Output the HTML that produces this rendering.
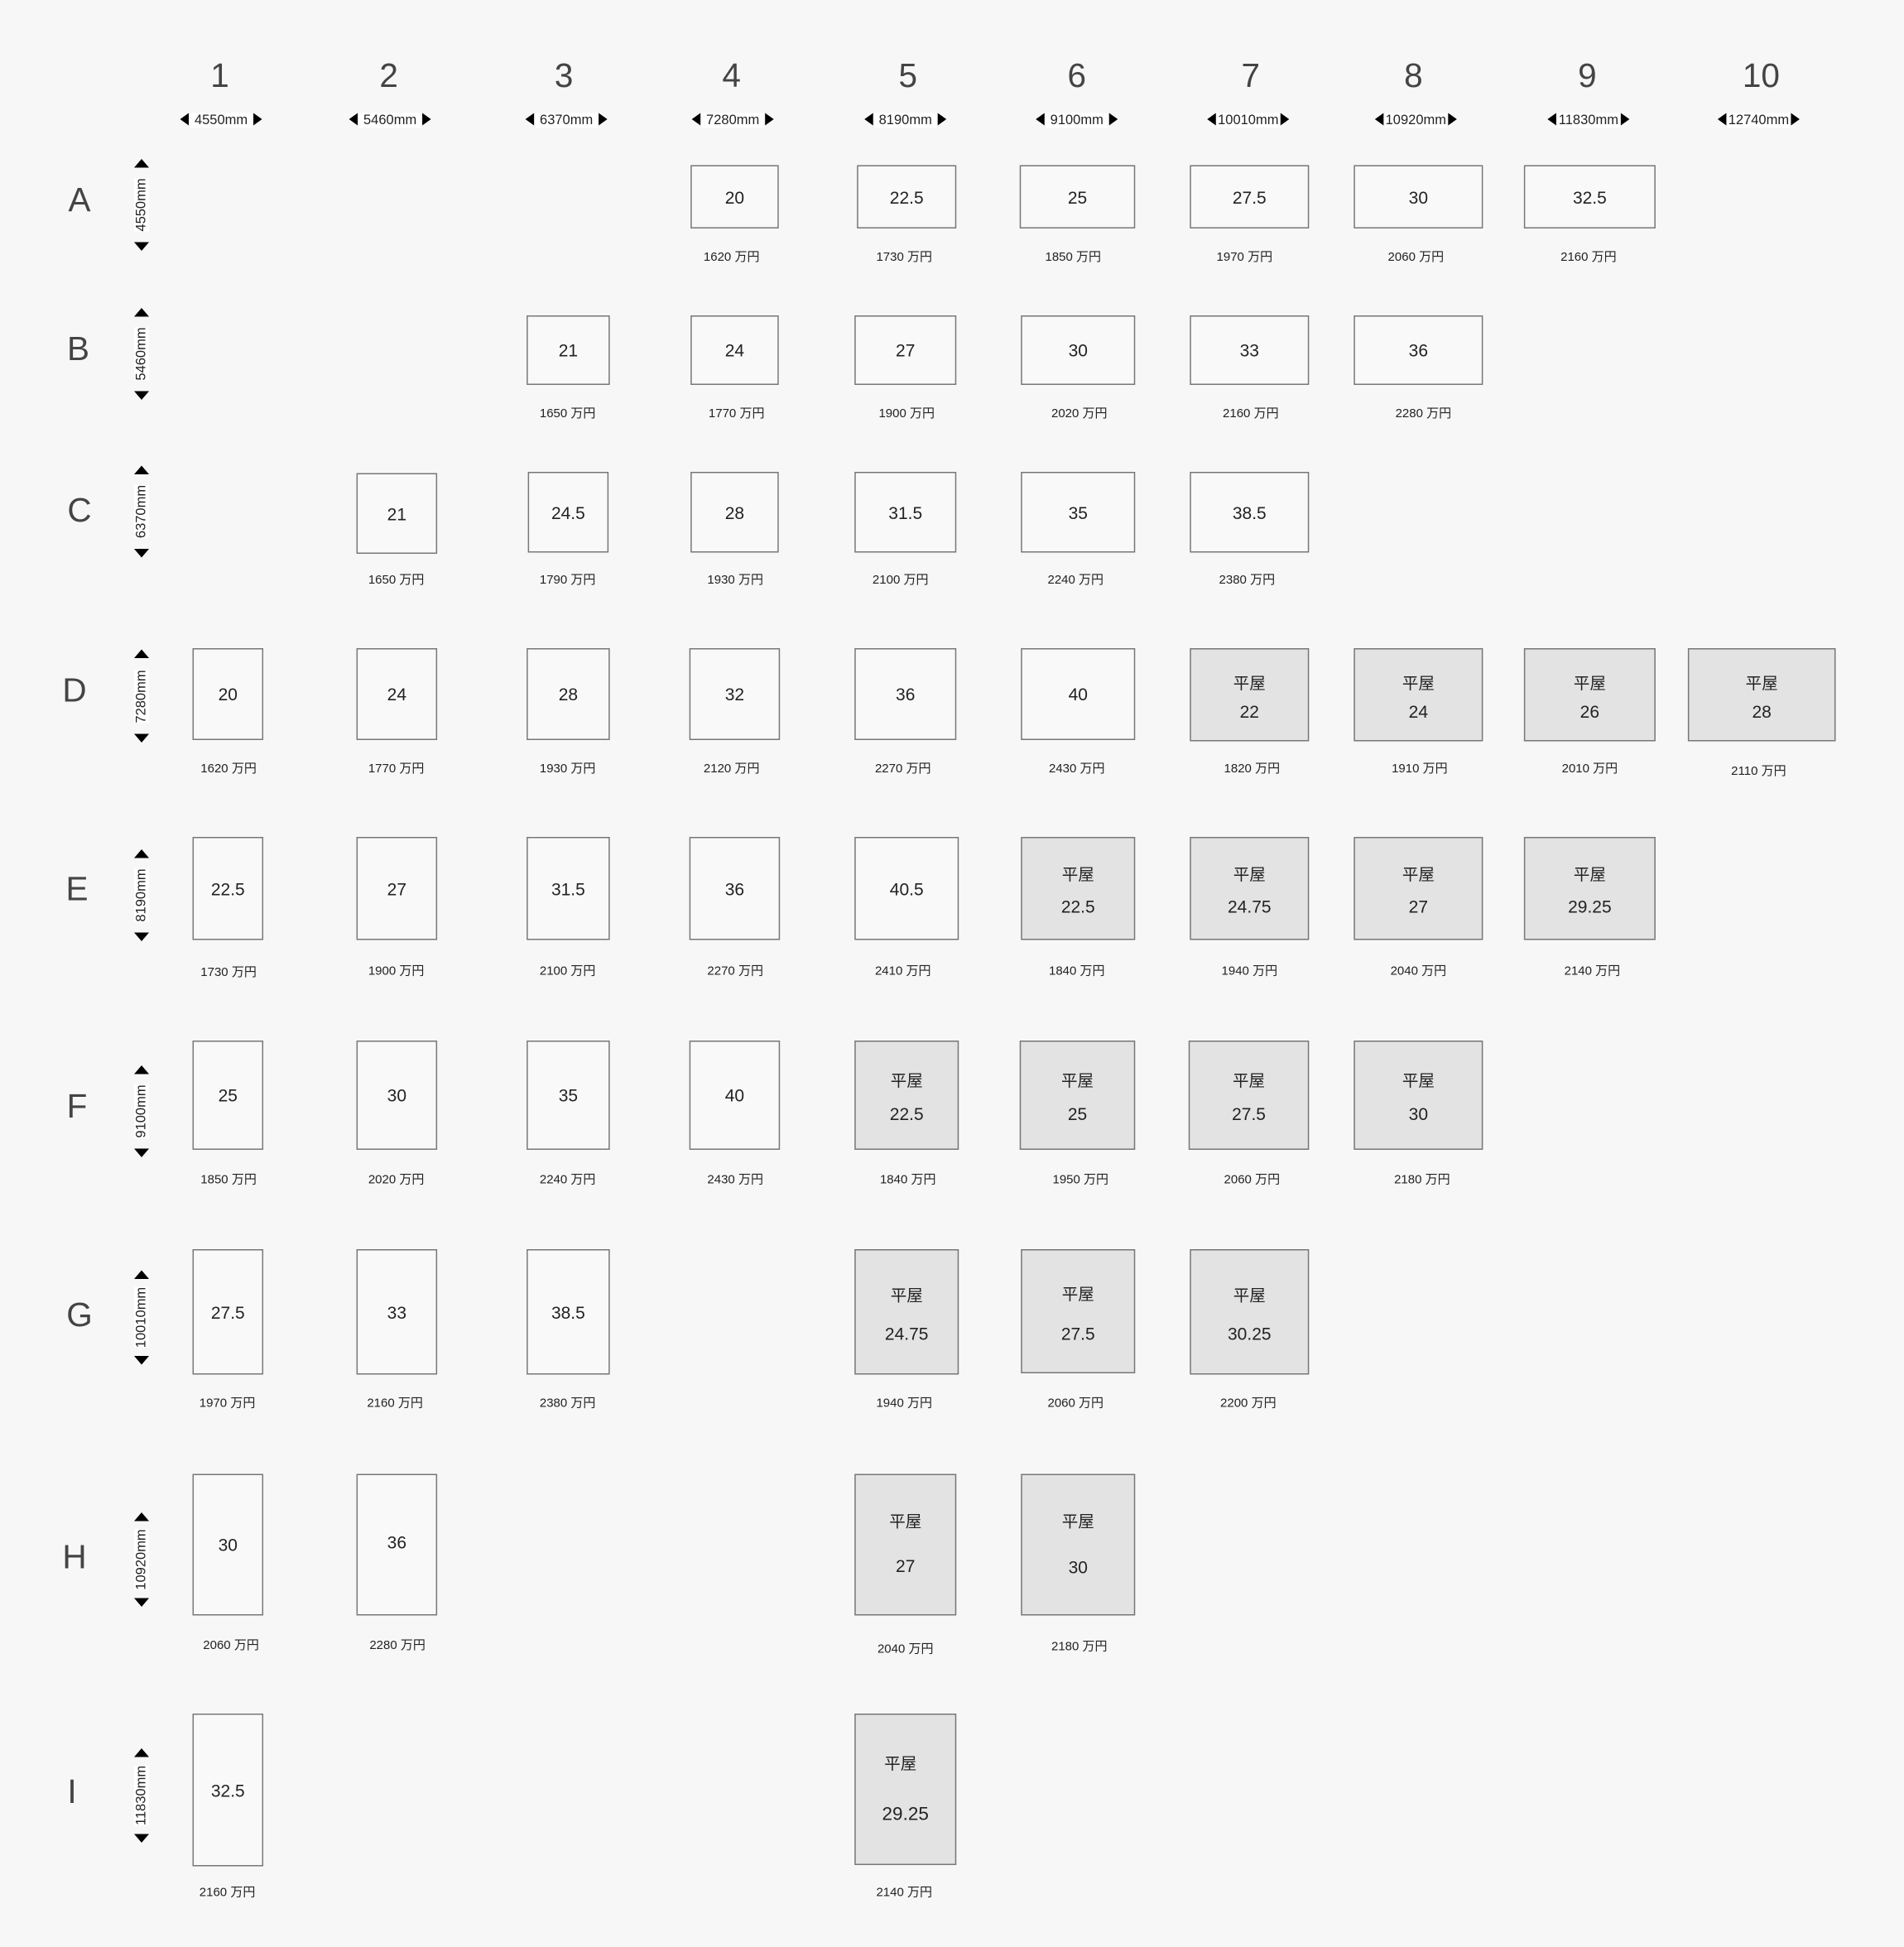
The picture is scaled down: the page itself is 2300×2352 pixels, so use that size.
<!DOCTYPE html>
<html><head><meta charset="utf-8">
<style>
html,body{margin:0;padding:0;background:#f7f7f7;}
#w{position:relative;width:1533px;height:1568px;transform:scale(1.5003,1.5);transform-origin:0 0;font-family:"Liberation Sans","Noto Sans CJK JP",sans-serif;color:#222;}
.h{position:absolute;width:60px;text-align:center;font-size:27px;color:#444;line-height:30px;}
.r{position:absolute;width:40px;text-align:center;font-size:27px;color:#444;line-height:30px;}
.d{position:absolute;width:100px;text-align:center;font-size:11px;line-height:12px;}
.d span{background:#fff;padding:0 4px;margin:0 1px;}
.tl,.tr{display:inline-block;width:0;height:0;border-top:5px solid transparent;border-bottom:5px solid transparent;vertical-align:-1px;}
.tl{border-right:7px solid #000;}
.tr{border-left:7px solid #000;}
.v{position:absolute;width:12px;}
.v .tu,.v .td{position:absolute;left:0;width:0;height:0;border-left:6px solid transparent;border-right:6px solid transparent;}
.v .tu{top:0;border-bottom:7px solid #000;}
.v .td{bottom:0;border-top:7px solid #000;}
.v .t{position:absolute;left:6px;top:50%;transform:translate(-50%,-50%) rotate(-90deg);font-size:11px;background:#fff;white-space:nowrap;line-height:12px;}
.b{position:absolute;box-sizing:border-box;border:1.3px solid #777;background:#f9f9f9;}
.b .n{position:absolute;left:0;right:0;top:50%;transform:translateY(-50%);text-align:center;font-size:14px;}
.g{background:#e3e3e3;}
.g .k{position:absolute;left:0;right:0;top:35%;transform:translateY(-50%);text-align:center;font-size:13px;}
.g .n{top:68%;}
.p{position:absolute;width:90px;text-align:center;font-size:10px;line-height:12px;margin-top:2px;}
</style></head><body><div id="w">
<div class="h" style="left:147px;top:46px">1</div>
<div class="h" style="left:283px;top:46px">2</div>
<div class="h" style="left:424px;top:46px">3</div>
<div class="h" style="left:559px;top:46px">4</div>
<div class="h" style="left:701px;top:46px">5</div>
<div class="h" style="left:837px;top:46px">6</div>
<div class="h" style="left:977px;top:46px">7</div>
<div class="h" style="left:1108px;top:46px">8</div>
<div class="h" style="left:1248px;top:46px">9</div>
<div class="h" style="left:1388px;top:46px">10</div>
<div class="d" style="left:128px;top:91px"><i class="tl"></i><span>4550mm</span><i class="tr"></i></div>
<div class="d" style="left:264px;top:91px"><i class="tl"></i><span>5460mm</span><i class="tr"></i></div>
<div class="d" style="left:406px;top:91px"><i class="tl"></i><span>6370mm</span><i class="tr"></i></div>
<div class="d" style="left:540px;top:91px"><i class="tl"></i><span>7280mm</span><i class="tr"></i></div>
<div class="d" style="left:679px;top:91px"><i class="tl"></i><span>8190mm</span><i class="tr"></i></div>
<div class="d" style="left:817px;top:91px"><i class="tl"></i><span>9100mm</span><i class="tr"></i></div>
<div class="d" style="left:955px;top:91px"><i class="tl"></i><span style="padding:0 1px">10010mm</span><i class="tr"></i></div>
<div class="d" style="left:1090px;top:91px"><i class="tl"></i><span style="padding:0 1px">10920mm</span><i class="tr"></i></div>
<div class="d" style="left:1229px;top:91px"><i class="tl"></i><span style="padding:0 1px">11830mm</span><i class="tr"></i></div>
<div class="d" style="left:1366px;top:91px"><i class="tl"></i><span style="padding:0 1px">12740mm</span><i class="tr"></i></div>

<div class="r" style="left:44px;top:146px">A</div>
<div class="r" style="left:43px;top:266px">B</div>
<div class="r" style="left:44px;top:396px">C</div>
<div class="r" style="left:40px;top:541px">D</div>
<div class="r" style="left:42px;top:701px">E</div>
<div class="r" style="left:42px;top:876px">F</div>
<div class="r" style="left:44px;top:1044px">G</div>
<div class="r" style="left:40px;top:1239px">H</div>
<div class="r" style="left:38px;top:1428px">I</div>
<div class="v" style="left:108px;top:128px;height:74px"><i class="tu"></i><div class="t">4550mm</div><i class="td"></i></div>
<div class="v" style="left:108px;top:248px;height:74px"><i class="tu"></i><div class="t">5460mm</div><i class="td"></i></div>
<div class="v" style="left:108px;top:375px;height:74px"><i class="tu"></i><div class="t">6370mm</div><i class="td"></i></div>
<div class="v" style="left:108px;top:523px;height:75px"><i class="tu"></i><div class="t">7280mm</div><i class="td"></i></div>
<div class="v" style="left:108px;top:684px;height:74px"><i class="tu"></i><div class="t">8190mm</div><i class="td"></i></div>
<div class="v" style="left:108px;top:858px;height:74px"><i class="tu"></i><div class="t">9100mm</div><i class="td"></i></div>
<div class="v" style="left:108px;top:1023px;height:76px"><i class="tu"></i><div class="t">10010mm</div><i class="td"></i></div>
<div class="v" style="left:108px;top:1218px;height:76px"><i class="tu"></i><div class="t">10920mm</div><i class="td"></i></div>
<div class="v" style="left:108px;top:1408px;height:76px"><i class="tu"></i><div class="t">11830mm</div><i class="td"></i></div>

<!-- Row A -->
<div class="b" style="left:556px;top:133px;width:71px;height:51px"><div class="n">20</div></div><div class="p" style="left:544px;top:200px">1620 万円</div>
<div class="b" style="left:690px;top:133px;width:80px;height:51px"><div class="n">22.5</div></div><div class="p" style="left:683px;top:200px">1730 万円</div>
<div class="b" style="left:821px;top:133px;width:93px;height:51px"><div class="n">25</div></div><div class="p" style="left:819px;top:200px">1850 万円</div>
<div class="b" style="left:958px;top:133px;width:96px;height:51px"><div class="n">27.5</div></div><div class="p" style="left:957px;top:200px">1970 万円</div>
<div class="b" style="left:1090px;top:133px;width:104px;height:51px"><div class="n">30</div></div><div class="p" style="left:1095px;top:200px">2060 万円</div>
<div class="b" style="left:1227px;top:133px;width:106px;height:51px"><div class="n">32.5</div></div><div class="p" style="left:1234px;top:200px">2160 万円</div>
<!-- Row B -->
<div class="b" style="left:424px;top:254px;width:67px;height:56px"><div class="n">21</div></div><div class="p" style="left:412px;top:326px">1650 万円</div>
<div class="b" style="left:556px;top:254px;width:71px;height:56px"><div class="n">24</div></div><div class="p" style="left:548px;top:326px">1770 万円</div>
<div class="b" style="left:688px;top:254px;width:82px;height:56px"><div class="n">27</div></div><div class="p" style="left:685px;top:326px">1900 万円</div>
<div class="b" style="left:822px;top:254px;width:92px;height:56px"><div class="n">30</div></div><div class="p" style="left:824px;top:326px">2020 万円</div>
<div class="b" style="left:958px;top:254px;width:96px;height:56px"><div class="n">33</div></div><div class="p" style="left:962px;top:326px">2160 万円</div>
<div class="b" style="left:1090px;top:254px;width:104px;height:56px"><div class="n">36</div></div><div class="p" style="left:1101px;top:326px">2280 万円</div>
<!-- Row C -->
<div class="b" style="left:287px;top:381px;width:65px;height:65px"><div class="n">21</div></div><div class="p" style="left:274px;top:460px">1650 万円</div>
<div class="b" style="left:425px;top:380px;width:65px;height:65px"><div class="n">24.5</div></div><div class="p" style="left:412px;top:460px">1790 万円</div>
<div class="b" style="left:556px;top:380px;width:71px;height:65px"><div class="n">28</div></div><div class="p" style="left:547px;top:460px">1930 万円</div>
<div class="b" style="left:688px;top:380px;width:82px;height:65px"><div class="n">31.5</div></div><div class="p" style="left:680px;top:460px">2100 万円</div>
<div class="b" style="left:822px;top:380px;width:92px;height:65px"><div class="n">35</div></div><div class="p" style="left:821px;top:460px">2240 万円</div>
<div class="b" style="left:958px;top:380px;width:96px;height:65px"><div class="n">38.5</div></div><div class="p" style="left:959px;top:460px">2380 万円</div>
<!-- Row D -->
<div class="b" style="left:155px;top:522px;width:57px;height:74px"><div class="n">20</div></div><div class="p" style="left:139px;top:612px">1620 万円</div>
<div class="b" style="left:287px;top:522px;width:65px;height:74px"><div class="n">24</div></div><div class="p" style="left:274px;top:612px">1770 万円</div>
<div class="b" style="left:424px;top:522px;width:67px;height:74px"><div class="n">28</div></div><div class="p" style="left:412px;top:612px">1930 万円</div>
<div class="b" style="left:555px;top:522px;width:73px;height:74px"><div class="n">32</div></div><div class="p" style="left:544px;top:612px">2120 万円</div>
<div class="b" style="left:688px;top:522px;width:82px;height:74px"><div class="n">36</div></div><div class="p" style="left:682px;top:612px">2270 万円</div>
<div class="b" style="left:822px;top:522px;width:92px;height:74px"><div class="n">40</div></div><div class="p" style="left:822px;top:612px">2430 万円</div>
<div class="b g" style="left:958px;top:522px;width:96px;height:75px"><div class="k">平屋</div><div class="n">22</div></div><div class="p" style="left:963px;top:612px">1820 万円</div>
<div class="b g" style="left:1090px;top:522px;width:104px;height:75px"><div class="k">平屋</div><div class="n">24</div></div><div class="p" style="left:1098px;top:612px">1910 万円</div>
<div class="b g" style="left:1227px;top:522px;width:106px;height:75px"><div class="k">平屋</div><div class="n">26</div></div><div class="p" style="left:1235px;top:612px">2010 万円</div>
<div class="b g" style="left:1359px;top:522px;width:119px;height:75px"><div class="k">平屋</div><div class="n">28</div></div><div class="p" style="left:1371px;top:614px">2110 万円</div>
<!-- Row E -->
<div class="b" style="left:155px;top:674px;width:57px;height:83px"><div class="n">22.5</div></div><div class="p" style="left:139px;top:776px">1730 万円</div>
<div class="b" style="left:287px;top:674px;width:65px;height:83px"><div class="n">27</div></div><div class="p" style="left:274px;top:775px">1900 万円</div>
<div class="b" style="left:424px;top:674px;width:67px;height:83px"><div class="n">31.5</div></div><div class="p" style="left:412px;top:775px">2100 万円</div>
<div class="b" style="left:555px;top:674px;width:73px;height:83px"><div class="n">36</div></div><div class="p" style="left:547px;top:775px">2270 万円</div>
<div class="b" style="left:688px;top:674px;width:84px;height:83px"><div class="n">40.5</div></div><div class="p" style="left:682px;top:775px">2410 万円</div>
<div class="b g" style="left:822px;top:674px;width:92px;height:83px"><div class="k">平屋</div><div class="n">22.5</div></div><div class="p" style="left:822px;top:775px">1840 万円</div>
<div class="b g" style="left:958px;top:674px;width:96px;height:83px"><div class="k">平屋</div><div class="n">24.75</div></div><div class="p" style="left:961px;top:775px">1940 万円</div>
<div class="b g" style="left:1090px;top:674px;width:104px;height:83px"><div class="k">平屋</div><div class="n">27</div></div><div class="p" style="left:1097px;top:775px">2040 万円</div>
<div class="b g" style="left:1227px;top:674px;width:106px;height:83px"><div class="k">平屋</div><div class="n">29.25</div></div><div class="p" style="left:1237px;top:775px">2140 万円</div>
<!-- Row F -->
<div class="b" style="left:155px;top:838px;width:57px;height:88px"><div class="n">25</div></div><div class="p" style="left:139px;top:943px">1850 万円</div>
<div class="b" style="left:287px;top:838px;width:65px;height:88px"><div class="n">30</div></div><div class="p" style="left:274px;top:943px">2020 万円</div>
<div class="b" style="left:424px;top:838px;width:67px;height:88px"><div class="n">35</div></div><div class="p" style="left:412px;top:943px">2240 万円</div>
<div class="b" style="left:555px;top:838px;width:73px;height:88px"><div class="n">40</div></div><div class="p" style="left:547px;top:943px">2430 万円</div>
<div class="b g" style="left:688px;top:838px;width:84px;height:88px"><div class="k">平屋</div><div class="n">22.5</div></div><div class="p" style="left:686px;top:943px">1840 万円</div>
<div class="b g" style="left:821px;top:838px;width:93px;height:88px"><div class="k">平屋</div><div class="n">25</div></div><div class="p" style="left:825px;top:943px">1950 万円</div>
<div class="b g" style="left:957px;top:838px;width:97px;height:88px"><div class="k">平屋</div><div class="n">27.5</div></div><div class="p" style="left:963px;top:943px">2060 万円</div>
<div class="b g" style="left:1090px;top:838px;width:104px;height:88px"><div class="k">平屋</div><div class="n">30</div></div><div class="p" style="left:1100px;top:943px">2180 万円</div>
<!-- Row G -->
<div class="b" style="left:155px;top:1006px;width:57px;height:101px"><div class="n">27.5</div></div><div class="p" style="left:138px;top:1123px">1970 万円</div>
<div class="b" style="left:287px;top:1006px;width:65px;height:101px"><div class="n">33</div></div><div class="p" style="left:273px;top:1123px">2160 万円</div>
<div class="b" style="left:424px;top:1006px;width:67px;height:101px"><div class="n">38.5</div></div><div class="p" style="left:412px;top:1123px">2380 万円</div>
<div class="b g" style="left:688px;top:1006px;width:84px;height:101px"><div class="k">平屋</div><div class="n">24.75</div></div><div class="p" style="left:683px;top:1123px">1940 万円</div>
<div class="b g" style="left:822px;top:1006px;width:92px;height:100px"><div class="k">平屋</div><div class="n">27.5</div></div><div class="p" style="left:821px;top:1123px">2060 万円</div>
<div class="b g" style="left:958px;top:1006px;width:96px;height:101px"><div class="k">平屋</div><div class="n">30.25</div></div><div class="p" style="left:960px;top:1123px">2200 万円</div>
<!-- Row H -->
<div class="b" style="left:155px;top:1187px;width:57px;height:114px"><div class="n">30</div></div><div class="p" style="left:141px;top:1318px">2060 万円</div>
<div class="b" style="left:287px;top:1187px;width:65px;height:114px"><div class="n" style="top:48%">36</div></div><div class="p" style="left:275px;top:1318px">2280 万円</div>
<div class="b g" style="left:688px;top:1187px;width:82px;height:114px"><div class="k" style="top:32%">平屋</div><div class="n" style="top:65%">27</div></div><div class="p" style="left:684px;top:1321px">2040 万円</div>
<div class="b g" style="left:822px;top:1187px;width:92px;height:114px"><div class="k" style="top:32%">平屋</div><div class="n" style="top:66%">30</div></div><div class="p" style="left:824px;top:1319px">2180 万円</div>
<!-- Row I -->
<div class="b" style="left:155px;top:1380px;width:57px;height:123px"><div class="n">32.5</div></div><div class="p" style="left:138px;top:1517px">2160 万円</div>
<div class="b g" style="left:688px;top:1380px;width:82px;height:122px"><div class="k" style="top:32%;padding-right:8px">平屋</div><div class="n" style="top:67%;font-size:15px">29.25</div></div><div class="p" style="left:683px;top:1517px">2140 万円</div>
</div></body></html>
